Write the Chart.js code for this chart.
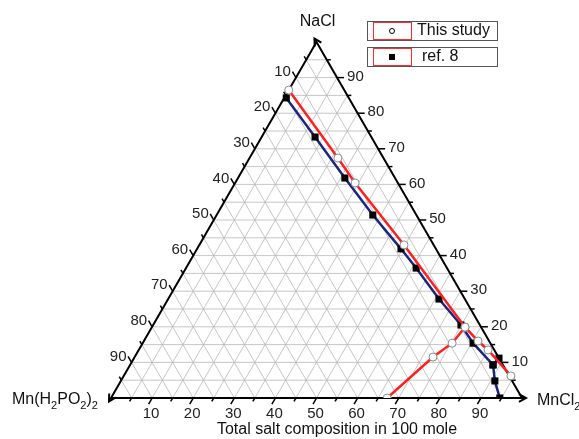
<!DOCTYPE html>
<html>
<head>
<meta charset="utf-8">
<script src="https://cdn.jsdelivr.net/npm/chart.js@4.4.0/dist/chart.umd.min.js"></script>
<style>
  body { margin: 0; background: #fff; }
</style>
</head>
<body>
<canvas id="ternaryChart" width="579" height="439"></canvas>
<script>
// mol %: MnCl2 and NaCl, Mn(H2PO2)2 is the rest
var studyA_MnCl2 = [0, 21.5, 29.2, 49.8, 76.2, 81.3, 85.0, 94.2];
var studyA_NaCl  = [86.5, 67.4, 60.4, 43.0, 19.9, 16.0, 13.5, 6.2];
var studyB_MnCl2 = [67.2, 72.6, 75.3, 76.2];
var studyB_NaCl  = [0, 11.5, 15.4, 19.9];
var refA_MnCl2 = [0.5, 13.0, 26.0, 38.0, 49.6, 56.0, 65.9, 74.9, 80.4, 88.3, 88.8];
var refA_NaCl  = [84.3, 73.3, 61.8, 51.4, 41.9, 36.5, 27.8, 20.5, 15.4, 9.3, 11.2];
var refB_MnCl2 = [88.3, 91.0, 94.6];
var refB_NaCl  = [9.3, 4.8, 0];
var tickValues = [10, 20, 30, 40, 50, 60, 70, 80, 90];

var H = Math.sqrt(3) / 2;
var FONT = '"Liberation Sans", Arial, sans-serif';

// ternary (MnCl2, NaCl) -> cartesian for the linear scales
function toPoints(mn, na) {
    return mn.map(function(a, i) {
        return { x: a + na[i] / 2, y: na[i] * H };
    });
}

function drawParts(ctx, parts, x, y, size) {
    ctx.textAlign = 'left';
    ctx.textBaseline = 'alphabetic';
    parts.forEach(function(p) {
        var sub = p[1];
        ctx.font = (sub ? Math.round(size * 0.68) : size) + 'px ' + FONT;
        ctx.fillText(p[0], x, sub ? y + 5 : y);
        x += ctx.measureText(p[0]).width;
    });
}

var ternaryFrame = {
    id: 'ternaryFrame',
    beforeDatasetsDraw: function(chart) {
        var ctx = chart.ctx;
        var sx = chart.scales.x, sy = chart.scales.y;
        function P(a, b) {
            return [sx.getPixelForValue(a + b / 2), sy.getPixelForValue(b * H)];
        }
        function seg(p, q) {
            ctx.beginPath();
            ctx.moveTo(p[0], p[1]);
            ctx.lineTo(q[0], q[1]);
            ctx.stroke();
        }
        ctx.save();

        // grid every 5
        ctx.strokeStyle = '#b8b8b8';
        ctx.lineWidth = 0.8;
        for (var k = 5; k < 100; k += 5) {
            seg(P(0, k), P(100 - k, k));
            seg(P(k, 0), P(k, 100 - k));
            seg(P(0, 100 - k), P(100 - k, 0));
        }

        // triangle
        var L = P(0, 0), R = P(100, 0), T = P(0, 100);
        ctx.strokeStyle = '#000';
        ctx.lineWidth = 2;
        ctx.beginPath();
        ctx.moveTo(L[0], L[1]);
        ctx.lineTo(R[0], R[1]);
        ctx.lineTo(T[0], T[1]);
        ctx.closePath();
        ctx.stroke();

        // arrow heads at the axis ends
        function arrow(tip, dx, dy) {
            var t = [tip[0] + dx * 4, tip[1] + dy * 4];
            var c = Math.cos(0.5), s = Math.sin(0.5);
            var a1 = [t[0] - 8 * (dx * c - dy * s), t[1] - 8 * (dy * c + dx * s)];
            var a2 = [t[0] - 8 * (dx * c + dy * s), t[1] - 8 * (dy * c - dx * s)];
            seg(tip, t);
            ctx.beginPath();
            ctx.moveTo(a1[0], a1[1]);
            ctx.lineTo(t[0], t[1]);
            ctx.lineTo(a2[0], a2[1]);
            ctx.stroke();
        }
        arrow(R, 1, 0);
        arrow(T, -0.5, -H);
        arrow(L, -0.5, H);

        // ticks and labels
        ctx.lineWidth = 1.5;
        ctx.fillStyle = '#222';
        ctx.font = '15px ' + FONT;
        for (var v = 5; v < 100; v += 5) {
            var len = v % 10 === 0 ? 7 : 4;
            var b1 = P(v, 0);
            seg(b1, [b1[0] - 0.5 * len, b1[1] + H * len]);
            var b2 = P(100 - v, v);
            seg(b2, [b2[0] + len, b2[1]]);
            var b3 = P(0, 100 - v);
            seg(b3, [b3[0] - 0.5 * len, b3[1] - H * len]);
        }
        tickValues.forEach(function(v) {
            var p = P(v, 0);
            ctx.textAlign = 'center';
            ctx.textBaseline = 'middle';
            ctx.fillText(String(v), p[0] - 1, p[1] + 16);
            p = P(100 - v, v);
            ctx.textAlign = 'left';
            ctx.fillText(String(v), p[0] + 10, p[1] - 1);
            p = P(0, 100 - v);
            ctx.textAlign = 'right';
            ctx.fillText(String(v), p[0] - 5, p[1] - 6);
        });

        // corner names and axis title
        ctx.fillStyle = '#111';
        ctx.textAlign = 'center';
        ctx.textBaseline = 'middle';
        ctx.font = '16px ' + FONT;
        ctx.fillText('NaCl', T[0] + 1, 22);
        drawParts(ctx, [['Mn(H', 0], ['2', 1], ['PO', 0], ['2', 1], [')', 0], ['2', 1]], 12, 404, 16);
        drawParts(ctx, [['MnCl', 0], ['2', 1]], 537, 405, 16);
        ctx.font = '16px ' + FONT;
        ctx.textAlign = 'center';
        ctx.textBaseline = 'alphabetic';
        ctx.fillText('Total salt composition in 100 mole', 337, 434);
        ctx.restore();
    },
    afterDraw: function(chart) {
        var ctx = chart.ctx;
        var items = [chart.data.datasets[0], chart.data.datasets[2]];
        ctx.save();
        items.forEach(function(ds, i) {
            var y = 21 + i * 26;
            ctx.strokeStyle = '#555';
            ctx.lineWidth = 1;
            ctx.strokeRect(367.5, y + 0.5, 130, 19);
            ctx.strokeStyle = '#ff2a2a';
            ctx.strokeRect(373.5, y + 1.5, 38, 17);
            if (i === 0) {
                ctx.strokeStyle = '#000';
                ctx.beginPath();
                ctx.arc(392, y + 10, 2.5, 0, Math.PI * 2);
                ctx.stroke();
            } else {
                ctx.fillStyle = '#000';
                ctx.fillRect(389, y + 7, 6, 6);
            }
            ctx.fillStyle = '#111';
            ctx.font = '16px ' + FONT;
            ctx.textAlign = 'left';
            ctx.textBaseline = 'middle';
            ctx.fillText(ds.label, i === 0 ? 417 : 422, y + 10);
        });
        ctx.restore();
    }
};

var studyStyle = {
    showLine: true,
    borderColor: '#ff1f1f',
    borderWidth: 2.5,
    pointStyle: 'circle',
    pointRadius: 4,
    pointBorderColor: '#8a8a8a',
    pointBorderWidth: 1,
    pointBackgroundColor: '#ffffff'
};
var refStyle = {
    showLine: true,
    borderColor: '#1c2580',
    borderWidth: 2.5,
    pointStyle: 'rect',
    pointRadius: 5,
    pointBorderColor: '#000',
    pointBorderWidth: 0,
    pointBackgroundColor: '#000'
};

var ctx = document.getElementById('ternaryChart').getContext('2d');
var ternaryChart = new Chart(ctx, {
    type: 'scatter',
    data: {
        datasets: [
            Object.assign({ label: 'This study', data: toPoints(studyA_MnCl2, studyA_NaCl) }, studyStyle),
            Object.assign({ label: 'This study (2)', data: toPoints(studyB_MnCl2, studyB_NaCl) }, studyStyle),
            Object.assign({ label: 'ref. 8', data: toPoints(refA_MnCl2, refA_NaCl) }, refStyle),
            Object.assign({ label: 'ref. 8 (2)', data: toPoints(refB_MnCl2, refB_NaCl) }, refStyle)
        ]
    },
    options: {
        responsive: false,
        animation: false,
        events: [],
        layout: { padding: { left: 111, right: 57, top: 42, bottom: 41 } },
        scales: {
            x: { type: 'linear', min: 0, max: 100, display: false },
            y: { type: 'linear', min: 0, max: 100 * H, display: false }
        },
        plugins: {
            legend: { display: false },
            tooltip: { enabled: false }
        }
    },
    plugins: [ternaryFrame]
});
</script>
</body>
</html>
